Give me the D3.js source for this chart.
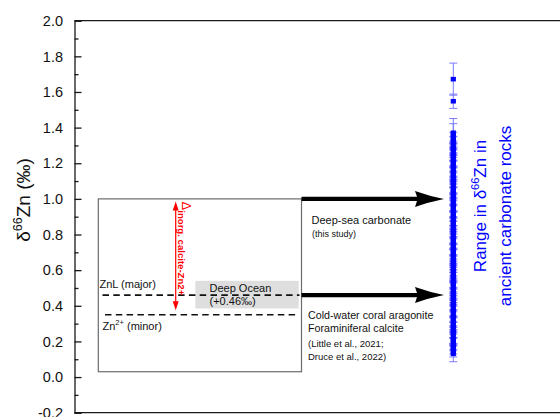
<!DOCTYPE html>
<html>
<head>
<meta charset="utf-8">
<script src="https://cdn.jsdelivr.net/npm/d3@7/dist/d3.min.js"></script>
<style>
  html, body { margin: 0; padding: 0; background: #fff; }
  svg { display: block; font-family: "Liberation Sans", Arial, sans-serif; }
</style>
</head>
<body>
<svg id="chart" width="560" height="417"></svg>
<script>
// δ66Zn of ancient carbonate rocks (compilation), ‰
const znValues = [
  1.672, 1.548, 1.371, 1.362, 1.344, 1.331, 1.318, 1.297, 1.285, 1.279,
  1.262, 1.244, 1.236, 1.219, 1.203, 1.198, 1.181, 1.166, 1.149, 1.142,
  1.127, 1.108, 1.095, 1.088, 1.071, 1.052, 1.046, 1.031, 1.014, 1.002,
  0.987, 0.969, 0.958, 0.944, 0.931, 0.912, 0.904, 0.889, 0.871, 0.866,
  0.847, 0.829, 0.818, 0.806, 0.788, 0.772, 0.764, 0.746, 0.733, 0.718,
  0.702, 0.694, 0.677, 0.659, 0.648, 0.636, 0.617, 0.606, 0.592, 0.574,
  0.566, 0.549, 0.531, 0.524, 0.508, 0.489, 0.478, 0.463, 0.451, 0.437,
  0.419, 0.408, 0.396, 0.378, 0.369, 0.352, 0.336, 0.327, 0.309, 0.294,
  0.283, 0.268, 0.251, 0.243, 0.227, 0.211, 0.202, 0.186, 0.168, 0.159,
  0.143, 0.131
];
const znErrors = [
  0.09, 0.04, 0.08, 0.06, 0.03, 0.02, 0.03, 0.02, 0.04, 0.03,
  0.02, 0.03, 0.02, 0.04, 0.03, 0.02, 0.03, 0.02, 0.03, 0.04,
  0.03, 0.02, 0.03, 0.02, 0.04, 0.03, 0.02, 0.03, 0.02, 0.03,
  0.02, 0.04, 0.03, 0.02, 0.03, 0.02, 0.03, 0.04, 0.02, 0.03,
  0.03, 0.02, 0.03, 0.02, 0.04, 0.03, 0.02, 0.03, 0.02, 0.03,
  0.02, 0.03, 0.04, 0.02, 0.03, 0.02, 0.03, 0.02, 0.04, 0.03,
  0.03, 0.02, 0.03, 0.02, 0.03, 0.04, 0.02, 0.03, 0.02, 0.03,
  0.02, 0.03, 0.02, 0.04, 0.03, 0.02, 0.03, 0.02, 0.03, 0.04,
  0.03, 0.02, 0.03, 0.02, 0.04, 0.03, 0.02, 0.03, 0.02, 0.03,
  0.03, 0.045
];

// Schematic levels (‰)
const schemeBox = [0.03, 1.00];          // inner schematic frame, bottom/top
const znLigand = 0.46;                   // ZnL (major)
const znFree = 0.35;                     // Zn2+ (minor)
const deepOcean = [0.385, 0.54];         // deep-ocean band
const fractionation = [0.375, 0.985];    // Δ inorg. calcite–Zn2+ span
const arrowLevels = [1.00, 0.46];        // deep-sea carbonate, coral/foram

// Axis tick labels
const yTicks = [-0.2, 0.0, 0.2, 0.4, 0.6, 0.8, 1.0, 1.2, 1.4, 1.6, 1.8, 2.0];
const yMinorTicks = [-0.1, 0.1, 0.3, 0.5, 0.7, 0.9, 1.1, 1.3, 1.5, 1.7, 1.9];

const svg = d3.select("#chart");

const y = d3.scaleLinear().domain([-0.2, 2.0]).range([412.7, 20.7]);
// horizontal layout coordinate (schematic, no axis shown)
const x = d3.scaleLinear().domain([0, 10]).range([74.5, 574.5]);

// --- frame ---
const frame = svg.append("g").attr("fill", "none").attr("stroke", "#1a1a1a").attr("stroke-width", 1.3);
frame.append("line").attr("x1", x(0)).attr("x2", x(10)).attr("y1", y(2.0)).attr("y2", y(2.0));
frame.append("line").attr("x1", x(0)).attr("x2", x(10)).attr("y1", y(-0.2)).attr("y2", y(-0.2));

// --- left axis, ticks inward ---
const yAxis = d3.axisRight(y).tickValues(yTicks).tickSize(7).tickFormat("");
const gy = svg.append("g").attr("transform", `translate(${x(0)},0)`).call(yAxis);
gy.select(".domain").attr("stroke", "#1a1a1a").attr("stroke-width", 1.3);
gy.selectAll(".tick line").attr("stroke", "#1a1a1a").attr("stroke-width", 1.3);
const yAxisMinor = d3.axisRight(y).tickValues(yMinorTicks).tickSize(4).tickFormat("");
const gym = svg.append("g").attr("transform", `translate(${x(0)},0)`).call(yAxisMinor);
gym.select(".domain").remove();
gym.selectAll(".tick line").attr("stroke", "#1a1a1a").attr("stroke-width", 1.3);

svg.append("g").selectAll("text").data(yTicks).join("text")
  .attr("x", 63).attr("y", d => y(d)).attr("dy", "0.36em")
  .attr("text-anchor", "end").attr("font-size", 14.5).attr("fill", "#111")
  .text(d => d.toFixed(1));

// axis title
const yt = svg.append("text")
  .attr("transform", `translate(30,200) rotate(-90)`)
  .attr("text-anchor", "middle").attr("font-size", 19).attr("fill", "#111");
yt.append("tspan").text("δ");
yt.append("tspan").attr("font-size", 12.5).attr("dy", -8).text("66");
yt.append("tspan").attr("dy", 8).text("Zn (‰)");

// --- schematic box ---
const bx0 = x(0.476), bx1 = x(4.54);
svg.append("rect")
  .attr("x", bx0).attr("y", y(schemeBox[1]))
  .attr("width", bx1 - bx0).attr("height", y(schemeBox[0]) - y(schemeBox[1]))
  .attr("fill", "none").attr("stroke", "#6b6b6b").attr("stroke-width", 1.2);

// deep-ocean band
svg.append("rect")
  .attr("x", x(2.416)).attr("y", y(deepOcean[1]))
  .attr("width", x(4.484) - x(2.416)).attr("height", y(deepOcean[0]) - y(deepOcean[1]))
  .attr("fill", "#dedede");

// dashed Zn speciation levels
svg.append("line")
  .attr("x1", x(0.56)).attr("x2", x(4.5)).attr("y1", y(znLigand)).attr("y2", y(znLigand))
  .attr("stroke", "#111").attr("stroke-width", 1.6).attr("stroke-dasharray", "6.5,4.3");
svg.append("line")
  .attr("x1", x(0.61)).attr("x2", x(4.48)).attr("y1", y(znFree)).attr("y2", y(znFree))
  .attr("stroke", "#111").attr("stroke-width", 1.6).attr("stroke-dasharray", "6.5,4.3");

svg.append("text").attr("x", x(0.5)).attr("y", y(znLigand) - 7)
  .attr("font-size", 11).attr("fill", "#111").text("ZnL (major)");
const zf = svg.append("text").attr("x", x(0.56)).attr("y", y(znFree) + 15)
  .attr("font-size", 11).attr("fill", "#111");
zf.append("tspan").text("Zn");
zf.append("tspan").attr("font-size", 7.5).attr("dy", -4.5).text("2+");
zf.append("tspan").attr("dy", 4.5).text(" (minor)");

svg.append("text").attr("x", x(2.7)).attr("y", 291.7)
  .attr("font-size", 11).attr("fill", "#111").text("Deep Ocean");
svg.append("text").attr("x", x(2.7)).attr("y", 305)
  .attr("font-size", 11).attr("fill", "#111").text("(+0.46‰)");

// red double-headed fractionation arrow
const rx = x(2.024);
const ry0 = y(fractionation[1]), ry1 = y(fractionation[0]);
svg.append("line").attr("x1", rx).attr("x2", rx).attr("y1", ry0 + 6).attr("y2", ry1 - 6)
  .attr("stroke", "#ff0000").attr("stroke-width", 1.2);
svg.append("path")
  .attr("d", `M${rx},${ry0} L${rx - 3},${ry0 + 9} L${rx + 3},${ry0 + 9} Z M${rx},${ry1} L${rx - 3},${ry1 - 9} L${rx + 3},${ry1 - 9} Z`)
  .attr("fill", "#ff0000");

const dl = svg.append("text")
  .attr("transform", `translate(${rx + 6},${ry0 + 0}) rotate(90)`)
  .attr("fill", "#ff0000");
dl.append("tspan").attr("font-size", 13).text("Δ");
dl.append("tspan").attr("font-size", 9.6).attr("font-weight", "bold").attr("dy", 4)
  .text("inorg. calcite-Zn2+");

// black arrows to the rock record
const tipX = x(7.39), headX = x(6.81), startX = bx1;
const arrows = svg.append("g").attr("fill", "#000");
arrowLevels.forEach(v => {
  const yy = y(v);
  arrows.append("path").attr("d",
    `M${startX},${yy - 2.2} L${headX + 2},${yy - 2.2} L${headX},${yy - 8}` +
    ` Q${headX + 14},${yy - 3} ${tipX},${yy}` +
    ` Q${headX + 14},${yy + 3} ${headX},${yy + 8}` +
    ` L${headX + 2},${yy + 2.2} L${startX},${yy + 2.2} Z`);
});

svg.append("text").attr("x", 311.5).attr("y", 224)
  .attr("font-size", 11).attr("fill", "#111").text("Deep-sea carbonate");
svg.append("text").attr("x", 312).attr("y", 237)
  .attr("font-size", 9).attr("fill", "#111").text("(this study)");
svg.append("text").attr("x", 308).attr("y", 319)
  .attr("font-size", 10.7).attr("fill", "#111").text("Cold-water coral aragonite");
svg.append("text").attr("x", 308).attr("y", 332)
  .attr("font-size", 10.7).attr("fill", "#111").text("Foraminiferal calcite");
svg.append("text").attr("x", 308).attr("y", 347)
  .attr("font-size", 9.5).attr("fill", "#111").text("(Little et al., 2021;");
svg.append("text").attr("x", 308).attr("y", 360)
  .attr("font-size", 9.5).attr("fill", "#111").text("Druce et al., 2022)");

// --- carbonate rock data column ---
const cx = x(7.576);
const pts = znValues.map((v, i) => ({ v, e: znErrors[i] }));
const eb = svg.append("g").attr("stroke", "#7a7aff").attr("stroke-width", 1);
eb.selectAll("line.v").data(pts).join("line").attr("class", "v")
  .attr("x1", cx).attr("x2", cx).attr("y1", d => y(d.v + d.e)).attr("y2", d => y(d.v - d.e));
eb.selectAll("line.t").data(pts).join("line").attr("class", "t")
  .attr("x1", cx - 4).attr("x2", cx + 4).attr("y1", d => y(d.v + d.e)).attr("y2", d => y(d.v + d.e));
eb.selectAll("line.b").data(pts).join("line").attr("class", "b")
  .attr("x1", cx - 4).attr("x2", cx + 4).attr("y1", d => y(d.v - d.e)).attr("y2", d => y(d.v - d.e));
svg.append("g").attr("fill", "#0000ff").selectAll("rect").data(pts).join("rect")
  .attr("x", cx - 2.6).attr("y", d => y(d.v) - 2.3).attr("width", 5.2).attr("height", 4.6);

// column label
const lab = svg.append("g").attr("fill", "#0000ff").attr("font-size", 17).attr("text-anchor", "middle");
const l1 = lab.append("text").attr("transform", "translate(486,206) rotate(-90)");
l1.append("tspan").text("Range in δ");
l1.append("tspan").attr("font-size", 11).attr("dy", -7).text("66");
l1.append("tspan").attr("dy", 7).text("Zn in");
lab.append("text").attr("transform", "translate(511,216) rotate(-90)").text("ancient carbonate rocks");
</script>
</body>
</html>
